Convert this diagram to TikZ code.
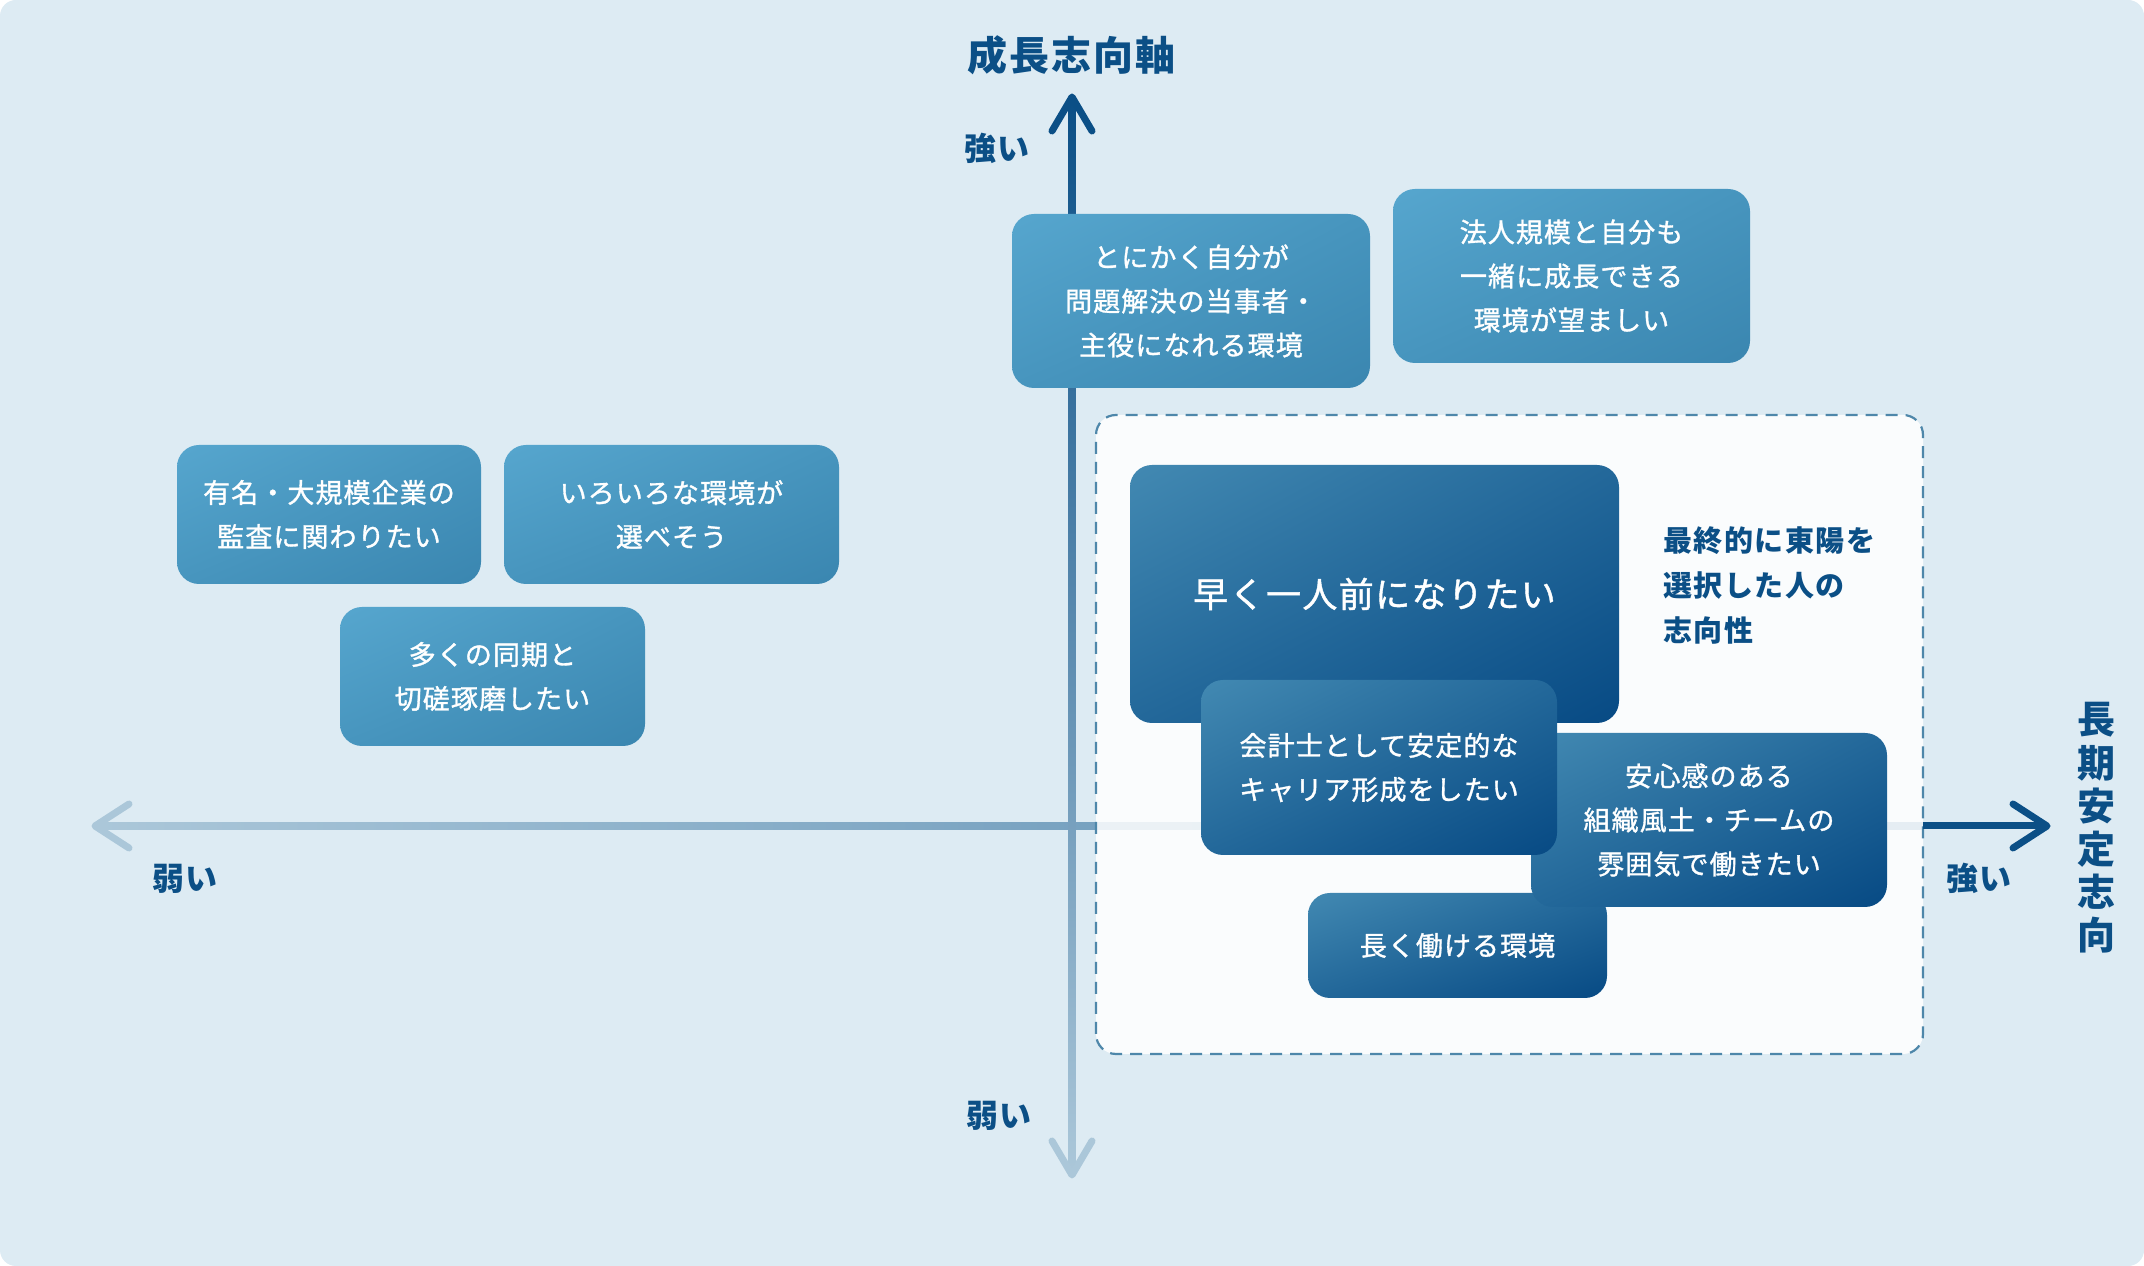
\documentclass[tikz,border=0pt]{standalone}
\usepackage{fontspec}
\setmainfont{Noto Sans CJK JP}
\newfontfamily\jpbox[LetterSpace=4, FakeBold=1.2]{Noto Sans CJK JP}
\newfontfamily\jplabel[LetterSpace=5]{Noto Sans CJK JP}
\usetikzlibrary{calc,shadings}

\definecolor{bgblue}{HTML}{DDEBF3}
\definecolor{lbtl}{HTML}{56A6CE}
\definecolor{lbmid}{HTML}{4795BE}
\definecolor{lbbr}{HTML}{3A86B0}
\definecolor{dbtl}{HTML}{4289B2}
\definecolor{dbmid}{HTML}{23689A}
\definecolor{dbbr}{HTML}{074A84}
\definecolor{tblue}{HTML}{0B4F86}
\definecolor{dashc}{HTML}{4E87AA}
\definecolor{axlight}{HTML}{ABC7D9}
\definecolor{axmid}{HTML}{4B82AB}
\definecolor{axdark}{HTML}{0B4F86}

\tikzset{
	wish/.style={rounded corners=22pt, inner sep=0pt, text=white, align=center,
		font=\jpbox\fontsize{27}{44}\selectfont},
	lightwish/.style={wish, upper left=lbtl, upper right=lbmid, lower left=lbmid, lower right=lbbr},
	darkwish/.style={wish, upper left=dbtl, upper right=dbmid, lower left=dbmid, lower right=dbbr},
	axlabel/.style={text=tblue, font=\jplabel\bfseries\fontsize{32}{38}\selectfont},
	axhead/.style={line width=7pt, line cap=round, line join=round},
}

\begin{document}
\begin{tikzpicture}[x=1pt, y=1pt]
		\useasboundingbox (0,0) rectangle (2144,1266);
		\fill[white] (0,0) rectangle (2144,1266);
		\fill[bgblue, rounded corners=16pt] (0,0) rectangle (2144,1266);

		% axis end points
		\coordinate (ytop) at (1072,1169);
		\coordinate (ybot) at (1072,91);
		\coordinate (xleft) at (95,440);
		\coordinate (xright) at (2047,440);
		\coordinate (xcut) at (1923,440);

		% horizontal axis (weak -> strong)
		\shade[left color=axlight, right color=axmid] ($(xleft)+(3,-3.5)$) rectangle ($(xcut)+(0,3.5)$);
		\draw[axhead, axlight] ($(xleft)+(34,22)$) -- (xleft) -- ($(xleft)+(34,-22)$);
		% vertical axis
		\shade[top color=axdark, bottom color=axlight] ($(ybot)+(-3.5,3)$) rectangle ($(ytop)+(3.5,-3)$);
		\draw[axhead, axdark] ($(ytop)+(-20,-34)$) -- (ytop) -- ($(ytop)+(20,-34)$);
		\draw[axhead, axlight] ($(ybot)+(-20,34)$) -- (ybot) -- ($(ybot)+(20,34)$);

		% area of the chosen ones
		\draw[dashc, line width=2.2pt, dash pattern=on 12pt off 8pt, rounded corners=20pt,
			fill=white, fill opacity=0.86] (1096,212) rectangle (1923,851);
		\draw[line width=7pt, axdark] (xcut) -- ($(xright)+(-3,0)$);
		\draw[axhead, axdark] ($(xright)+(-34,22)$) -- (xright) -- ($(xright)+(-34,-22)$);

		% axis labels
		\node[axlabel, font=\jplabel\bfseries\fontsize{40}{44}\selectfont] (growth) at (1071,1211) {成長志向軸};
		\node[axlabel] (ystrong) at (997,1118) {強い};
		\node[axlabel] (yweak) at (999,150) {弱い};
		\node[axlabel] (xweak) at (185,387) {弱い};
		\node[axlabel] (xstrong) at (1979,388) {強い};
		\node[axlabel, align=center, font=\bfseries\fontsize{38}{43.2}\selectfont] (stable) at (2096,438)
			{長\\期\\安\\定\\志\\向};

		% light boxes
		\node[lightwish, minimum width=358pt, minimum height=174pt] (solve) at (1191,965)
			{とにかく自分が\\問題解決の当事者・\\主役になれる環境};
		\node[lightwish, minimum width=357pt, minimum height=174pt] (scale) at (1571.5,990)
			{法人規模と自分も\\一緒に成長できる\\環境が望ましい};
		\node[lightwish, minimum width=304pt, minimum height=139pt] (famous) at (329,751.5)
			{有名・大規模企業の\\監査に関わりたい};
		\node[lightwish, minimum width=335pt, minimum height=139pt] (choice) at (671.5,751.5)
			{いろいろな環境が\\選べそう};
		\node[lightwish, minimum width=305pt, minimum height=139pt] (peers) at (492.5,589.5)
			{多くの同期と\\切磋琢磨したい};

		% dark boxes, back to front
		\node[darkwish, minimum width=489pt, minimum height=258pt,
			font=\jpbox\fontsize{35}{40}\selectfont] (fast) at (1374.5,672) {早く一人前になりたい};
		\node[darkwish, minimum width=299pt, minimum height=105pt] (long) at (1457.5,320.5)
			{長く働ける環境};
		\node[darkwish, minimum width=356pt, minimum height=174pt] (culture) at (1709,446)
			{安心感のある\\組織風土・チームの\\雰囲気で働きたい};
		\node[darkwish, minimum width=356pt, minimum height=175pt] (career) at (1379,498.5)
			{会計士として安定的な\\キャリア形成をしたい};

		\node[anchor=west, align=left, text=tblue, font=\jplabel\bfseries\fontsize{29}{45}\selectfont]
			(chosen) at (1660,680) {最終的に東陽を\\選択した人の\\志向性};
\end{tikzpicture}
\end{document}
